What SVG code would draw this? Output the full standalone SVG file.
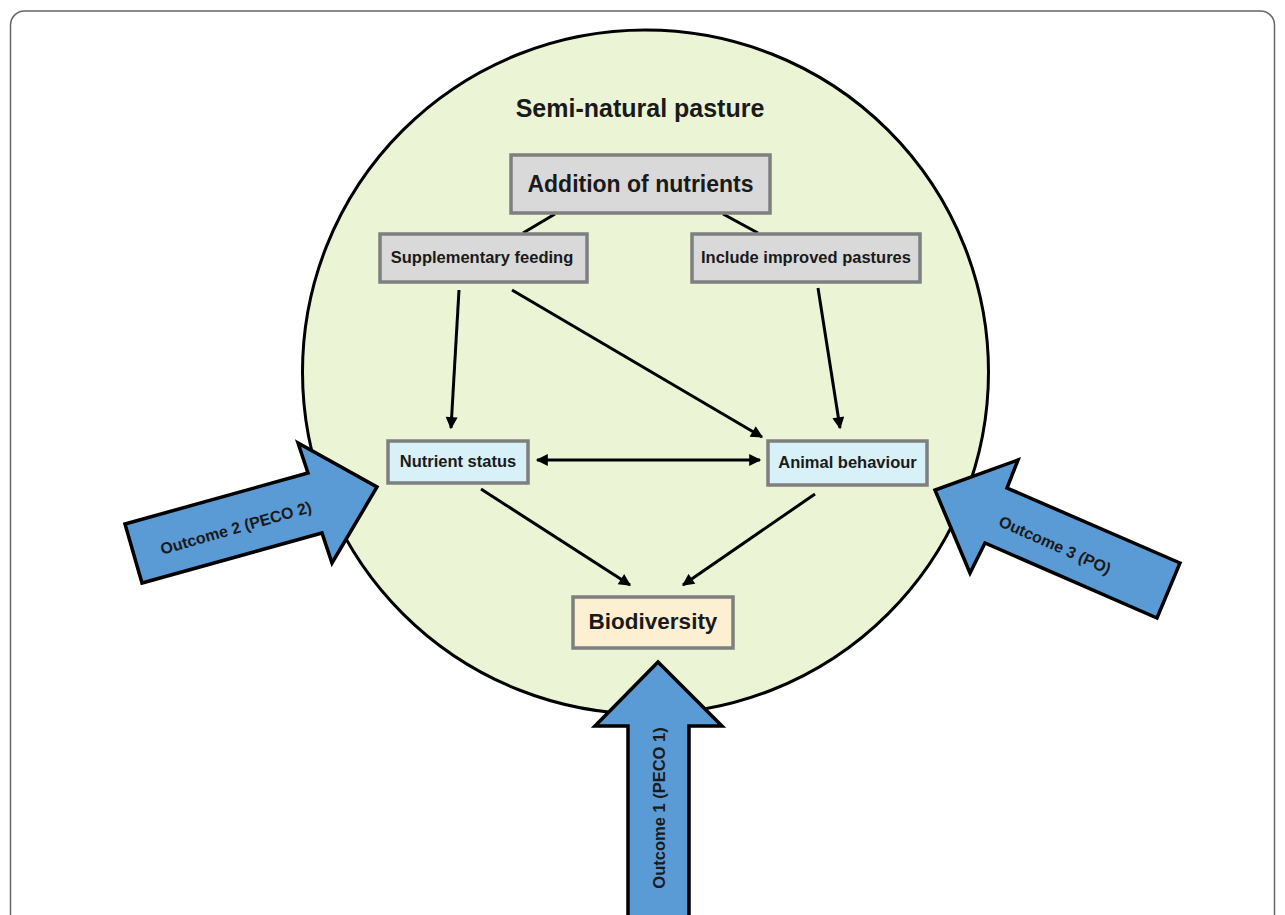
<svg xmlns="http://www.w3.org/2000/svg" width="1285" height="915" viewBox="0 0 1285 915">
<defs>
<style>
.t{font-family:"Liberation Sans",Arial,sans-serif;font-weight:bold;fill:#1a1a1a;text-anchor:middle;dominant-baseline:central}
.grey{fill:#d9d9d9;stroke:#7f7f7f;stroke-width:3.5}
.blue{fill:#d8f0f8;stroke:#7f7f7f;stroke-width:3.5}
.tan{fill:#fcefd2;stroke:#7f7f7f;stroke-width:3.5}
.big{fill:#5b9bd5;stroke:#000;stroke-width:3.5;stroke-linejoin:miter}
.c{stroke:#000;stroke-width:3;fill:none}
</style>
<marker id="ah" viewBox="0 0 10 10" refX="9" refY="5" markerWidth="4.5" markerHeight="4" orient="auto-start-reverse" markerUnits="strokeWidth">
<path d="M0,0 L10,5 L0,10 z" fill="#000"/>
</marker>
</defs>
<rect x="0" y="0" width="1285" height="915" fill="#fff"/>
<rect x="10.5" y="11" width="1264" height="960" rx="14" fill="#fff" stroke="#666" stroke-width="1.5"/>
<g id="pasture">
<ellipse cx="645.5" cy="372" rx="343" ry="342" fill="#ebf5d6" stroke="#000" stroke-width="3"/>
<text class="t" x="640" y="108" font-size="25">Semi-natural pasture</text>
</g>
<g id="connectors">
<line class="c" x1="555" y1="214" x2="523" y2="233"/>
<line class="c" x1="723" y1="214" x2="758" y2="233"/>
<line class="c" x1="459" y1="290" x2="451" y2="428" marker-end="url(#ah)"/>
<line class="c" x1="512" y1="290" x2="762" y2="437" marker-end="url(#ah)"/>
<line class="c" x1="818" y1="288" x2="840" y2="428" marker-end="url(#ah)"/>
<line class="c" x1="537" y1="460" x2="760" y2="460" marker-start="url(#ah)" marker-end="url(#ah)"/>
<line class="c" x1="481" y1="489" x2="630" y2="585" marker-end="url(#ah)"/>
<line class="c" x1="815" y1="494" x2="683" y2="585" marker-end="url(#ah)"/>
</g>
<g id="addition">
<rect class="grey" x="511" y="155" width="259" height="58"/>
<text class="t" x="640.5" y="184" font-size="23">Addition of nutrients</text>
</g>
<g id="supplementary">
<rect class="grey" x="380" y="234" width="207" height="48"/>
<text class="t" x="482" y="257" font-size="16.5">Supplementary feeding</text>
</g>
<g id="improved">
<rect class="grey" x="692" y="234" width="228" height="48"/>
<text class="t" x="806" y="257" font-size="16.5">Include improved pastures</text>
</g>
<g id="nutrient">
<rect class="blue" x="388" y="441" width="140" height="42"/>
<text class="t" x="458" y="461" font-size="16.5">Nutrient status</text>
</g>
<g id="animal">
<rect class="blue" x="768" y="441" width="159" height="44"/>
<text class="t" x="847.5" y="462" font-size="16.5">Animal behaviour</text>
</g>
<g id="biodiversity">
<rect class="tan" x="573" y="597" width="160" height="51"/>
<text class="t" x="653" y="621" font-size="22.5">Biodiversity</text>
</g>
<g id="outcome1">
<path class="big" d="M628,930 L628,726 L595,726 L658,662 L722,726 L689,726 L689,930 Z"/>
<text class="t" x="0" y="0" font-size="16.5" transform="translate(659,808) rotate(-90)">Outcome 1 (PECO 1)</text>
</g>
<g id="outcome2">
<path class="big" d="M125,524 L308,473 L298,443 L377,487 L332,563 L322,533 L142,583 Z"/>
<text class="t" x="0" y="0" font-size="16" transform="translate(236,528) rotate(-16)">Outcome 2 (PECO 2)</text>
</g>
<g id="outcome3">
<path class="big" d="M1180,563 L1007,488 L1018,460 L935,490 L970,573 L985,543 L1157,618 Z"/>
<text class="t" x="0" y="0" font-size="16" transform="translate(1055,545) rotate(24)">Outcome 3 (PO)</text>
</g>
</svg>
